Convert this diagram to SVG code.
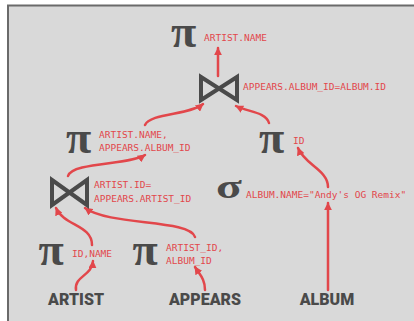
<svg xmlns="http://www.w3.org/2000/svg" width="414" height="321" viewBox="0 0 414 321">
<defs>
<style>
.op{font-family:"Liberation Serif",serif;font-weight:bold;fill:#4a4a4a}
.lbl{font-family:"DejaVu Sans Mono","Liberation Mono",monospace;font-size:9.5px;fill:#e2474b}
.tbl{font-family:Roboto,"Liberation Sans",sans-serif;font-weight:900;font-size:16px;fill:#4a4a4a;text-anchor:middle}
.join{fill:none;stroke:#4a4a4a;stroke-width:4;stroke-linejoin:miter}
.edge{fill:none;stroke:#e2474b;stroke-width:2.5;stroke-linecap:round;marker-end:url(#ah)}
</style>
<marker id="ah" viewBox="0 0 10 10" refX="9" refY="5" markerWidth="3.2" markerHeight="3.2" orient="auto" markerUnits="strokeWidth">
<path d="M0,0 L10,5 L0,10 Z" fill="#e2474b"/>
</marker>
</defs>
<rect x="0" y="0" width="414" height="321" fill="#ffffff"/>
<rect x="8" y="5.5" width="420" height="330" fill="#d9d9d9" stroke="#6a6a6a" stroke-width="2"/>

<g id="connectors">
<path class="edge" d="M218,76 L218,48"/>
<path class="edge" d="M145,125 C150,113 190,115 203,104"/>
<path class="edge" d="M269,123 C266,112 248,112 236,106"/>
<path class="edge" d="M68,176 C72,162 130,165 145,155"/>
<path class="edge" d="M328,187 C328,170 305,165 298,148"/>
<path class="edge" d="M328,290 L328,203"/>
<path class="edge" d="M76,290 C74,276 92,276 93,261"/>
<path class="edge" d="M205,290 C205,279 200,275 195,267"/>
<path class="edge" d="M92,245 C92,225 64,226 56,208"/>
<path class="edge" d="M195,237 C190,219 110,226 85,208"/>
</g>

<g id="proj-top">
<text class="op" x="183.5" y="47" font-size="46" text-anchor="middle">π</text>
<text class="lbl" x="204" y="41">ARTIST.NAME</text>
</g>
<g id="join-top">
<path class="join" d="M201,77 L237,100 L237,77 L201,100 Z"/>
<text class="lbl" x="243" y="90">APPEARS.ALBUM_ID=ALBUM.ID</text>
</g>
<g id="proj-left">
<text class="op" x="78.5" y="153" font-size="46" text-anchor="middle">π</text>
<text class="lbl" x="99" y="138">ARTIST.NAME,</text>
<text class="lbl" x="99" y="151">APPEARS.ALBUM_ID</text>
</g>
<g id="proj-right">
<text class="op" x="271.5" y="153" font-size="46" text-anchor="middle">π</text>
<text class="lbl" x="293" y="144">ID</text>
</g>
<g id="join-low">
<path class="join" d="M52,180 L87,205 L87,180 L52,205 Z"/>
<text class="lbl" x="94" y="188">ARTIST.ID=</text>
<text class="lbl" x="94" y="202">APPEARS.ARTIST_ID</text>
</g>
<g id="select">
<text class="op" transform="translate(229,198) scale(1.4,1)" x="0" y="0" font-size="34" text-anchor="middle">σ</text>
<text class="lbl" x="246" y="198">ALBUM.NAME="Andy's OG Remix"</text>
</g>
<g id="proj-artist">
<text class="op" x="51" y="265" font-size="46" text-anchor="middle">π</text>
<text class="lbl" x="72" y="257">ID,NAME</text>
</g>
<g id="proj-appears">
<text class="op" x="145" y="265" font-size="46" text-anchor="middle">π</text>
<text class="lbl" x="166" y="251">ARTIST_ID,</text>
<text class="lbl" x="166" y="264">ALBUM_ID</text>
</g>
<g id="artist"><text class="tbl" x="76" y="305">ARTIST</text></g>
<g id="appears"><text class="tbl" x="205" y="305">APPEARS</text></g>
<g id="album"><text class="tbl" x="327" y="305">ALBUM</text></g>
</svg>
